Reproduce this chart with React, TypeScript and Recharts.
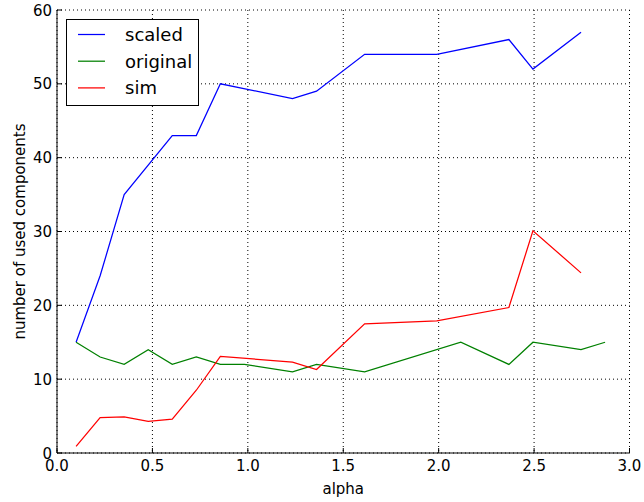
import { LineChart, Line, XAxis, YAxis, CartesianGrid, Legend } from 'recharts'

// alpha sampled roughly every 0.126 from 0.1; null = no visible vertex (segment is straight)
const ALPHA = [
  0.1, 0.226, 0.352, 0.478, 0.604, 0.73, 0.856, 0.982, 1.108, 1.234, 1.36, 1.486,
  1.612, 1.738, 1.864, 1.99, 2.116, 2.242, 2.368, 2.494, 2.62, 2.746, 2.872
]
const SCALED = [15, 24, 35, null, 43, 43, 50, null, null, 48, 49, null, 54, null, null, 54, null, null, 56, 52, null, 57, null]
const ORIGINAL = [15, 13, 12, 14, 12, 13, 12, 12, null, 11, 12, null, 11, null, null, null, 15, null, 12, 15, null, 14, 15]
const SIM = [0.9, 4.8, 4.9, 4.3, 4.6, 8.5, 13.1, null, null, 12.3, 11.3, null, 17.5, null, null, 17.9, null, null, 19.7, 30.1, null, 24.4, null]

const X_TICKS = [0, 0.5, 1, 1.5, 2, 2.5, 3]
const Y_TICKS = [0, 10, 20, 30, 40, 50, 60]

const SERIES = [
  { key: 'scaled', name: 'scaled', color: '#0000ff' },
  { key: 'original', name: 'original', color: '#008000' },
  { key: 'sim', name: 'sim', color: '#ff0000' }
]

const FONT = '"DejaVu Sans", sans-serif'

const data = ALPHA.map((a, i) => ({ alpha: a, scaled: SCALED[i], original: ORIGINAL[i], sim: SIM[i] }))

// matplotlib style ticks: marks point inward
function BottomTick(props: any) {
  const { x, y, payload } = props
  return (
    <g>
      <line x1={x} y1={y} x2={x} y2={y - 5} stroke="#000" />
      <text x={x} y={y + 18} textAnchor="middle" fontSize={15} fontFamily={FONT} fill="#000">
        {Number(payload.value).toFixed(1)}
      </text>
    </g>
  )
}

function TopTick(props: any) {
  const { x, y } = props
  return <line x1={x} y1={y} x2={x} y2={y + 5} stroke="#000" />
}

function LeftTick(props: any) {
  const { x, y, payload } = props
  return (
    <g>
      <line x1={x} y1={y} x2={x + 5} y2={y} stroke="#000" />
      <text x={x - 5} y={y + 5.5} textAnchor="end" fontSize={15} fontFamily={FONT} fill="#000">
        {payload.value}
      </text>
    </g>
  )
}

function RightTick(props: any) {
  const { x, y } = props
  return <line x1={x} y1={y} x2={x - 5} y2={y} stroke="#000" />
}

function XLabel() {
  return (
    <text x={343.25} y={494} textAnchor="middle" fontSize={15} fontFamily={FONT} fill="#000">
      alpha
    </text>
  )
}

function YLabel() {
  return (
    <text
      x={25}
      y={231.5}
      transform="rotate(-90, 25, 231.5)"
      textAnchor="middle"
      fontSize={15}
      fontFamily={FONT}
      fill="#000"
    >
      number of used components
    </text>
  )
}

function LegendBox() {
  return (
    <svg width={133} height={87} style={{ display: 'block' }}>
      <rect x={0.5} y={0.5} width={132} height={86} fill="#fff" stroke="#000" />
      {SERIES.map((s, i) => {
        const cy = 15.5 + i * 26.7
        return (
          <g key={s.key}>
            <line x1={12} y1={cy} x2={39} y2={cy} stroke={s.color} strokeWidth={1.25} />
            <text x={59} y={cy + 6.5} fontSize={18} fontFamily={FONT} fill="#000">
              {s.name}
            </text>
          </g>
        )
      })}
    </svg>
  )
}

export default function App() {
  return (
    <div style={{ position: 'absolute', left: 0, top: 0, width: 644, height: 502, background: '#fff' }}>
      <LineChart width={644} height={502} data={data} margin={{ top: 10, right: 14.5, bottom: 19, left: 10 }}>
        <CartesianGrid stroke="#000" strokeDasharray="1 3" />
        <XAxis
          dataKey="alpha"
          type="number"
          domain={[0, 3]}
          ticks={X_TICKS}
          interval={0}
          height={30}
          tickSize={0}
          tickMargin={0}
          tickLine={false}
          axisLine={{ stroke: '#000' }}
          tick={<BottomTick />}
          label={{ content: () => <XLabel /> }}
        />
        <XAxis
          xAxisId="top"
          orientation="top"
          dataKey="alpha"
          type="number"
          domain={[0, 3]}
          ticks={X_TICKS}
          interval={0}
          height={0}
          tickSize={0}
          tickMargin={0}
          tickLine={false}
          axisLine={{ stroke: '#000' }}
          tick={<TopTick />}
        />
        <YAxis
          type="number"
          domain={[0, 60]}
          ticks={Y_TICKS}
          interval={0}
          width={47}
          tickSize={0}
          tickMargin={0}
          tickLine={false}
          axisLine={{ stroke: '#000' }}
          tick={<LeftTick />}
          label={{ content: () => <YLabel /> }}
        />
        <YAxis
          yAxisId="right"
          orientation="right"
          type="number"
          domain={[0, 60]}
          ticks={Y_TICKS}
          interval={0}
          width={0}
          tickSize={0}
          tickMargin={0}
          tickLine={false}
          axisLine={{ stroke: '#000' }}
          tick={<RightTick />}
        />
        <Legend
          layout="vertical"
          align="center"
          verticalAlign="middle"
          content={() => <LegendBox />}
          wrapperStyle={{ left: 66, top: 19, width: 133, height: 87 }}
        />
        {SERIES.map((s) => (
          <Line
            key={s.key}
            type="linear"
            dataKey={s.key}
            name={s.name}
            stroke={s.color}
            strokeWidth={1.25}
            dot={false}
            connectNulls
            isAnimationActive={false}
          />
        ))}
      </LineChart>
    </div>
  )
}
